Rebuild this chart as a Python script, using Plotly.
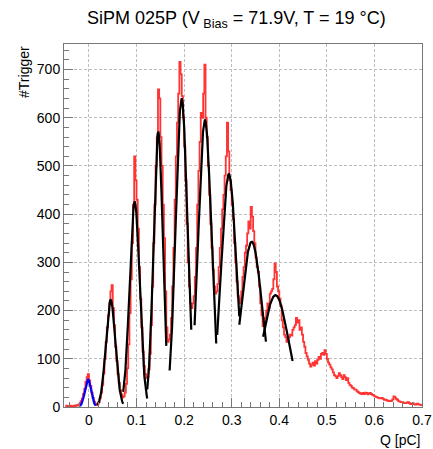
import numpy as np
import plotly.graph_objects as go

# ---- histogram data (bin width 0.0025 pC, from -0.05 to 0.70) ----
bin_start = -0.05
bin_width = 0.0025
counts = [
    2, 3, 2, 2, 3, 2, 2, 3, 2, 4, 3, 5,
    7, 12, 18, 27, 38, 52, 62, 68,
    55, 44, 30, 19, 11, 7, 4, 6,
    10, 18, 30, 45, 70, 100, 135, 165,
    190, 215, 240, 253, 205, 170, 125, 95,
    68, 50, 35, 26, 20, 22, 30, 48,
    80, 130, 195, 265, 340, 420, 520, 470,
    430, 370, 290, 225, 165, 115, 85, 68,
    60, 62, 78, 110, 170, 250, 340, 420,
    500, 560, 659, 640, 560, 500, 420, 350,
    240, 165, 135, 140, 150, 185, 250, 330,
    430, 520, 590, 650, 716, 690, 645, 600,
    540, 470, 380, 300, 250, 215, 205, 215,
    230, 270, 330, 420, 490, 550, 610, 600,
    650, 710, 600, 560, 500, 440, 380, 330,
    285, 250, 235, 240, 255, 290, 330, 370,
    410, 440, 480, 520, 590, 530, 470, 450,
    420, 390, 340, 300, 260, 230, 215, 225,
    240, 270, 290, 320, 335, 360, 385, 370,
    415, 395, 365, 340, 310, 290, 280, 250,
    215, 190, 168, 175, 185, 200, 215, 205,
    235, 240, 245, 265, 298, 280, 250, 240,
    225, 210, 180, 165, 150, 145, 135, 140,
    145, 150, 148, 160, 165, 170, 185, 175,
    180, 160, 165, 150, 135, 125, 112, 105,
    98, 90, 84, 88, 92, 86, 95, 90,
    98, 104, 100, 110, 112, 108, 118, 110,
    100, 92, 88, 82, 78, 72, 66, 64,
    60, 64, 70, 66, 62, 58, 66, 62,
    56, 60, 50, 46, 44, 40, 39, 36,
    36, 33, 31, 29, 28, 27, 29, 27,
    30, 29, 26, 28, 29, 27, 25, 24,
    22, 21, 20, 19, 18, 18, 19, 17,
    15, 15, 14, 13, 12, 12, 13, 16,
    22, 20, 17, 15, 12, 11, 10, 10,
    9, 8, 8, 9, 10, 8, 6, 7,
    8, 6, 5, 6, 7, 5, 5, 4,
]

# ---- Gaussian fit results (pedestal + photoelectron peaks) ----
ped_amp, ped_mean, ped_sigma, ped_lo, ped_hi = 57, -0.002, 0.0065, -0.019, 0.014
fit_amp   = [222, 426, 571, 640, 595, 483, 343, 232]
fit_mean  = [0.0455, 0.0960, 0.1455, 0.1947, 0.2437, 0.2940, 0.3420, 0.3920]
fit_sigma = [0.0100, 0.0105, 0.0098, 0.0122, 0.0137, 0.0160, 0.0220, 0.0270]
fit_lo    = [0.0175, 0.0720, 0.1225, 0.1695, 0.2220, 0.2695, 0.3160, 0.3660]
fit_hi    = [0.0720, 0.1225, 0.1625, 0.2150, 0.2675, 0.3160, 0.3720, 0.4280]

x_ticks = [0, 0.1, 0.2, 0.3, 0.4, 0.5, 0.6, 0.7]
x_tick_text = ["0", "0.1", "0.2", "0.3", "0.4", "0.5", "0.6", "0.7"]
y_ticks = [0, 100, 200, 300, 400, 500, 600, 700]

fig = go.Figure()

edges = bin_start + bin_width * np.arange(len(counts) + 1)
hx = list(edges)
hy = list(counts) + [counts[-1]]
fig.add_trace(go.Scatter(x=hx, y=hy, mode="lines", line=dict(color="rgba(255,30,30,0.9)", width=1.8, shape="hv"),
                         showlegend=False, hoverinfo="skip"))

def gauss(a, m, s, lo, hi):
    xs = np.linspace(lo, hi, 120)
    return xs, a * np.exp(-0.5 * ((xs - m) / s) ** 2)

xs, ys = gauss(ped_amp, ped_mean, ped_sigma, ped_lo, ped_hi)
fig.add_trace(go.Scatter(x=xs, y=ys, mode="lines", line=dict(color="#0000ff", width=2.2), showlegend=False))
for a, m, s, lo, hi in zip(fit_amp, fit_mean, fit_sigma, fit_lo, fit_hi):
    xs, ys = gauss(a, m, s, lo, hi)
    fig.add_trace(go.Scatter(x=xs, y=ys, mode="lines", line=dict(color="#000000", width=2.2), showlegend=False))

axis_common = dict(
    showline=True, linecolor="#777777", linewidth=1, mirror=True,
    ticks="inside", tickcolor="#777777", zeroline=False, automargin=False,
    showgrid=True, gridcolor="#bdbdbd", griddash="3px,2px", gridwidth=1,
    tickfont=dict(family="Liberation Sans, Arial, sans-serif", size=14, color="black"),
)

fig.update_xaxes(range=[-0.0525, 0.7], tickvals=x_ticks, ticktext=x_tick_text, ticklen=9,
                 minor=dict(ticks="inside", ticklen=5, dtick=0.02, tick0=0, tickcolor="#777777", showgrid=False),
                 **axis_common)
fig.update_yaxes(range=[0, 753], tickvals=y_ticks, ticklen=9,
                 minor=dict(ticks="inside", ticklen=5, dtick=20, tick0=0, tickcolor="#777777", showgrid=False),
                 **axis_common)

fig.update_layout(
    width=433, height=449,
    margin=dict(l=64, r=11, t=44, b=42),
    plot_bgcolor="white", paper_bgcolor="white",
    font=dict(family="Liberation Sans, Arial, sans-serif", color="black"),
    annotations=[
        dict(text="SiPM 025P (V<sub> Bias</sub> = 71.9V, T = 19 °C)", xref="paper", yref="paper",
             x=0.483, y=1.0, yshift=25, xanchor="center", yanchor="middle", showarrow=False,
             font=dict(size=18, family="Liberation Sans, Arial, sans-serif")),
        dict(text="Q [pC]", xref="paper", yref="paper", x=1.0, y=0, yshift=-33,
             xanchor="right", yanchor="middle", showarrow=False,
             font=dict(size=14, family="Liberation Sans, Arial, sans-serif")),
        dict(text="#Trigger", xref="paper", yref="paper", x=0, xshift=-40, y=0.923,
             xanchor="center", yanchor="middle", textangle=-90, showarrow=False,
             font=dict(size=14, family="Liberation Sans, Arial, sans-serif")),
    ],
)

fig.write_html("out.html", config={"displayModeBar": False},
               post_script="document.body.style.margin='0';document.body.style.overflow='hidden';")
